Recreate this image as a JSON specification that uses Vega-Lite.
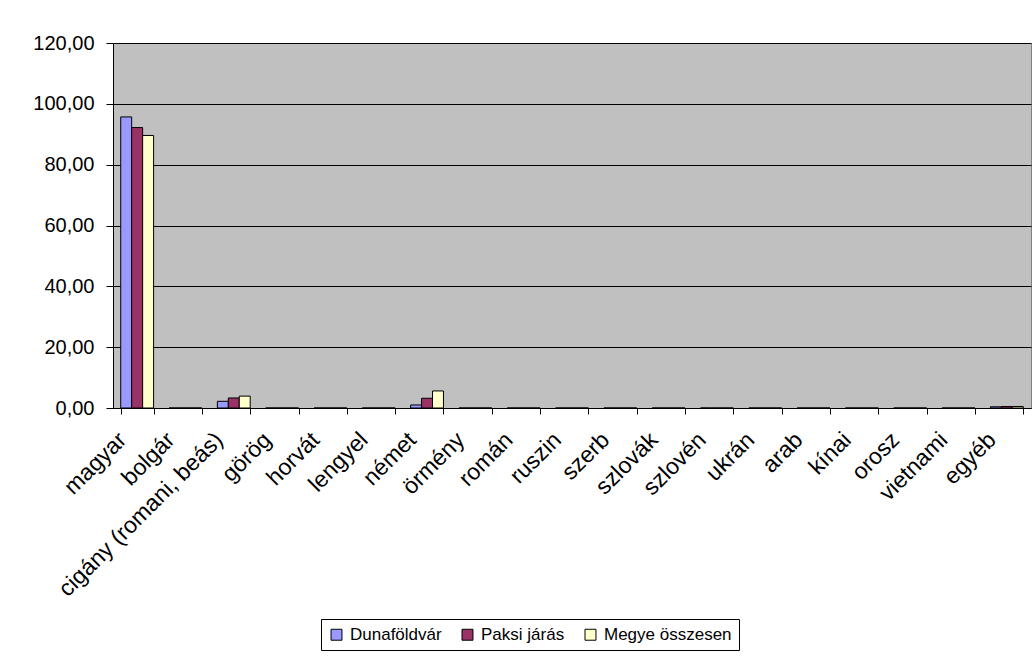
{
  "$schema": "https://vega.github.io/schema/vega-lite/v6.json",
  "width": 918,
  "height": 365,
  "autosize": {"type": "none"},
  "padding": {"left": 113, "top": 43, "right": 5, "bottom": 256},
  "background": "white",
  "data": {
    "values": [
      {"nemzetiseg": "magyar", "terulet": "Dunaföldvár", "ertek": 95.7},
      {"nemzetiseg": "magyar", "terulet": "Paksi járás", "ertek": 92.2},
      {"nemzetiseg": "magyar", "terulet": "Megye összesen", "ertek": 89.6},
      {"nemzetiseg": "bolgár", "terulet": "Dunaföldvár", "ertek": 0},
      {"nemzetiseg": "bolgár", "terulet": "Paksi járás", "ertek": 0},
      {"nemzetiseg": "bolgár", "terulet": "Megye összesen", "ertek": 0},
      {"nemzetiseg": "cigány (romani, beás)", "terulet": "Dunaföldvár", "ertek": 2.2},
      {"nemzetiseg": "cigány (romani, beás)", "terulet": "Paksi járás", "ertek": 3.3},
      {"nemzetiseg": "cigány (romani, beás)", "terulet": "Megye összesen", "ertek": 3.9},
      {"nemzetiseg": "görög", "terulet": "Dunaföldvár", "ertek": 0},
      {"nemzetiseg": "görög", "terulet": "Paksi járás", "ertek": 0},
      {"nemzetiseg": "görög", "terulet": "Megye összesen", "ertek": 0},
      {"nemzetiseg": "horvát", "terulet": "Dunaföldvár", "ertek": 0},
      {"nemzetiseg": "horvát", "terulet": "Paksi járás", "ertek": 0},
      {"nemzetiseg": "horvát", "terulet": "Megye összesen", "ertek": 0},
      {"nemzetiseg": "lengyel", "terulet": "Dunaföldvár", "ertek": 0},
      {"nemzetiseg": "lengyel", "terulet": "Paksi járás", "ertek": 0},
      {"nemzetiseg": "lengyel", "terulet": "Megye összesen", "ertek": 0},
      {"nemzetiseg": "német", "terulet": "Dunaföldvár", "ertek": 1.0},
      {"nemzetiseg": "német", "terulet": "Paksi járás", "ertek": 3.2},
      {"nemzetiseg": "német", "terulet": "Megye összesen", "ertek": 5.6},
      {"nemzetiseg": "örmény", "terulet": "Dunaföldvár", "ertek": 0},
      {"nemzetiseg": "örmény", "terulet": "Paksi járás", "ertek": 0},
      {"nemzetiseg": "örmény", "terulet": "Megye összesen", "ertek": 0},
      {"nemzetiseg": "román", "terulet": "Dunaföldvár", "ertek": 0},
      {"nemzetiseg": "román", "terulet": "Paksi járás", "ertek": 0},
      {"nemzetiseg": "román", "terulet": "Megye összesen", "ertek": 0},
      {"nemzetiseg": "ruszin", "terulet": "Dunaföldvár", "ertek": 0},
      {"nemzetiseg": "ruszin", "terulet": "Paksi járás", "ertek": 0},
      {"nemzetiseg": "ruszin", "terulet": "Megye összesen", "ertek": 0},
      {"nemzetiseg": "szerb", "terulet": "Dunaföldvár", "ertek": 0},
      {"nemzetiseg": "szerb", "terulet": "Paksi járás", "ertek": 0},
      {"nemzetiseg": "szerb", "terulet": "Megye összesen", "ertek": 0},
      {"nemzetiseg": "szlovák", "terulet": "Dunaföldvár", "ertek": 0},
      {"nemzetiseg": "szlovák", "terulet": "Paksi járás", "ertek": 0},
      {"nemzetiseg": "szlovák", "terulet": "Megye összesen", "ertek": 0},
      {"nemzetiseg": "szlovén", "terulet": "Dunaföldvár", "ertek": 0},
      {"nemzetiseg": "szlovén", "terulet": "Paksi járás", "ertek": 0},
      {"nemzetiseg": "szlovén", "terulet": "Megye összesen", "ertek": 0},
      {"nemzetiseg": "ukrán", "terulet": "Dunaföldvár", "ertek": 0},
      {"nemzetiseg": "ukrán", "terulet": "Paksi járás", "ertek": 0},
      {"nemzetiseg": "ukrán", "terulet": "Megye összesen", "ertek": 0},
      {"nemzetiseg": "arab", "terulet": "Dunaföldvár", "ertek": 0},
      {"nemzetiseg": "arab", "terulet": "Paksi járás", "ertek": 0},
      {"nemzetiseg": "arab", "terulet": "Megye összesen", "ertek": 0},
      {"nemzetiseg": "kínai", "terulet": "Dunaföldvár", "ertek": 0},
      {"nemzetiseg": "kínai", "terulet": "Paksi járás", "ertek": 0},
      {"nemzetiseg": "kínai", "terulet": "Megye összesen", "ertek": 0},
      {"nemzetiseg": "orosz", "terulet": "Dunaföldvár", "ertek": 0},
      {"nemzetiseg": "orosz", "terulet": "Paksi járás", "ertek": 0},
      {"nemzetiseg": "orosz", "terulet": "Megye összesen", "ertek": 0},
      {"nemzetiseg": "vietnami", "terulet": "Dunaföldvár", "ertek": 0},
      {"nemzetiseg": "vietnami", "terulet": "Paksi járás", "ertek": 0},
      {"nemzetiseg": "vietnami", "terulet": "Megye összesen", "ertek": 0},
      {"nemzetiseg": "egyéb", "terulet": "Dunaföldvár", "ertek": 0.4},
      {"nemzetiseg": "egyéb", "terulet": "Paksi járás", "ertek": 0.5},
      {"nemzetiseg": "egyéb", "terulet": "Megye összesen", "ertek": 0.5}
    ]
  },
  "mark": {"type": "bar", "stroke": "black", "strokeWidth": 1},
  "encoding": {
    "x": {
      "field": "nemzetiseg",
      "type": "nominal",
      "sort": null,
      "scale": {"paddingInner": 0.32, "paddingOuter": 0.16},
      "axis": {
        "title": null,
        "labelAngle": -45,
        "labelAlign": "right",
        "labelBaseline": "middle",
        "labelPadding": 22,
        "labelOffset": -15,
        "tickBand": "extent",
        "tickSize": 6,
        "tickColor": "black",
        "domainColor": "black",
        "labelColor": "black",
        "labelFont": "Liberation Sans",
        "labelFontSize": 23,
        "labelOverlap": false,
        "labelLimit": 400
      }
    },
    "xOffset": {
      "field": "terulet",
      "type": "nominal",
      "sort": ["Dunaföldvár", "Paksi járás", "Megye összesen"],
      "scale": {"paddingInner": 0, "paddingOuter": 0}
    },
    "y": {
      "field": "ertek",
      "type": "quantitative",
      "scale": {"domain": [0, 120], "nice": false},
      "axis": {
        "title": null,
        "values": [0, 20, 40, 60, 80, 100, 120],
        "labelExpr": "replace(format(datum.value, '.2f'), '.', ',')",
        "grid": true,
        "gridColor": "black",
        "gridOpacity": 1,
        "tickSize": 7,
        "tickColor": "black",
        "domainColor": "black",
        "labelColor": "black",
        "labelFont": "Liberation Sans",
        "labelFontSize": 20,
        "labelPadding": 12
      }
    },
    "color": {
      "field": "terulet",
      "type": "nominal",
      "sort": ["Dunaföldvár", "Paksi járás", "Megye összesen"],
      "scale": {
        "domain": ["Dunaföldvár", "Paksi járás", "Megye összesen"],
        "range": ["#9999FF", "#993366", "#FFFFCC"]
      },
      "legend": {
        "title": null,
        "orient": "none",
        "direction": "horizontal",
        "legendX": 208,
        "legendY": 576,
        "symbolType": "square",
        "symbolSize": 120,
        "symbolStrokeColor": "black",
        "symbolStrokeWidth": 1,
        "symbolOpacity": 1,
        "labelFont": "Liberation Sans",
        "labelFontSize": 17,
        "labelColor": "black",
        "columnPadding": 17,
        "labelOffset": 5,
        "strokeColor": "black",
        "padding": 7
      }
    }
  },
  "config": {
    "view": {"fill": "#C0C0C0", "stroke": "#808080", "strokeWidth": 1},
    "axis": {"domainWidth": 1, "tickWidth": 1}
  }
}
